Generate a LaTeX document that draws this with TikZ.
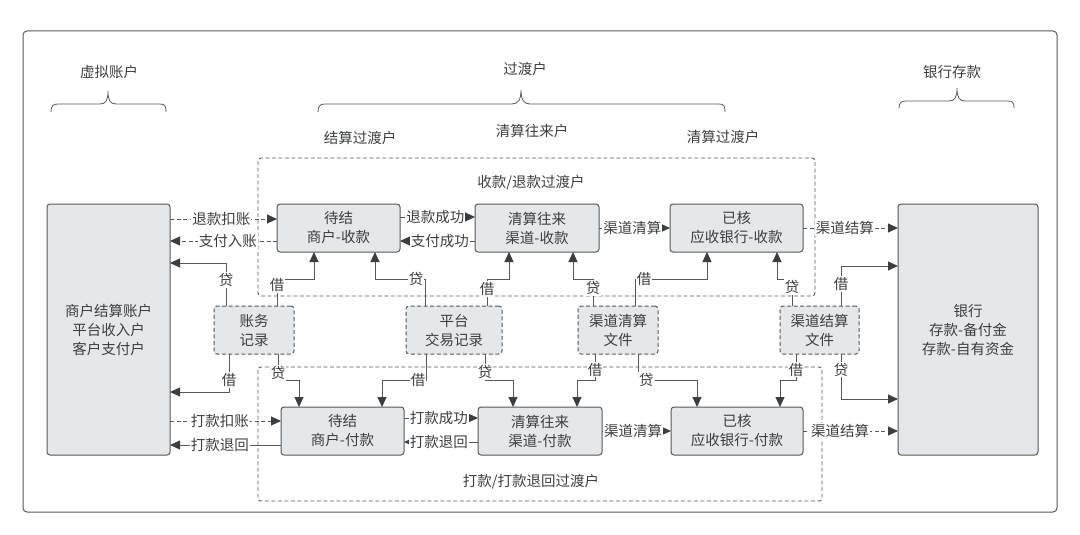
\documentclass[tikz,border=0pt]{standalone}
\usepackage{fontspec}
\setmainfont{Noto Sans CJK SC}
\usetikzlibrary{positioning,arrows.meta}
\definecolor{inkgrey}{HTML}{3C3F41}
\definecolor{linegrey}{HTML}{55595C}
\definecolor{boxgrey}{HTML}{E4E8EA}

\begin{document}
\begin{tikzpicture}[x=1pt,y=-1pt,
        every node/.style = {text=inkgrey, font=\fontsize{14.5}{19}\selectfont, align=center, inner sep=0pt, outer sep=0pt},
        acct/.style = {draw=linegrey, line width=1pt, fill=boxgrey, rounded corners=3pt, minimum height=48pt},
        rec/.style = {acct, dash pattern=on 4pt off 2.5pt},
        zone/.style = {draw=linegrey, line width=.9pt, dash pattern=on 4pt off 2.5pt, rounded corners=3pt},
        flow/.style = {draw=linegrey, line width=1pt, -{Stealth[length=10pt,width=9pt,inset=0pt,color=inkgrey]}},
        dflow/.style = {flow, dash pattern=on 4pt off 2.5pt},
        lbl/.style = {fill=white, inner sep=1pt},
        brc/.style = {draw=linegrey, line width=.8pt}]
        \useasboundingbox (0,0) rectangle (1080,535);
        \draw[draw=linegrey, line width=1pt, rounded corners=4pt] (23,31) rectangle (1057,512);

        % braces and headings
        \draw[brc] (51,112) .. controls (51,106) and (53,104) .. (58,104) -- (100,104) .. controls (106,104) and (108,100) .. (108,91) .. controls (108,100) and (110,104) .. (116,104) -- (160,104) .. controls (165,104) and (166,106) .. (166,112);
        \draw[brc] (318,112) .. controls (318,106) and (320,104) .. (325,104) -- (512,104) .. controls (518,104) and (521,100) .. (521,90) .. controls (521,100) and (524,104) .. (530,104) -- (719,104) .. controls (724,104) and (725,106) .. (725,112);
        \draw[brc] (899,108) .. controls (899,103) and (901,101) .. (906,101) -- (949,101) .. controls (955,101) and (957,97) .. (957,88) .. controls (957,97) and (959,101) .. (965,101) -- (1008,101) .. controls (1013,101) and (1014,103) .. (1014,108);
        \node (headVirt) at (109,72) {虚拟账户};
        \node (headTrans) at (525,69) {过渡户};
        \node (headBank) at (952,72) {银行存款};
        \node (headSettle) at (360,138) {结算过渡户};
        \node (headClear) at (532,131) {清算往来户};
        \node (headVerify) at (723,137) {清算过渡户};

        % dashed zones
        \draw[zone] (258,158) rectangle (815,296);
        \draw[zone] (258,367) rectangle (822,501);
        \node (zoneIn) at (531,183) {收款/退款过渡户};
        \node (zoneOut) at (531,482) {打款/打款退回过渡户};

        % accounts
        \node[acct, minimum width=123pt, minimum height=251pt] (ledger) at (108.5,329.5) {商户结算账户\\平台收入户\\客户支付户};
        \node[acct, minimum width=140pt, minimum height=251pt] (bank) at (968,329.5) {银行\\存款-备付金\\存款-自有资金};
        \node[acct, minimum width=123pt] (merchIn) at (338.5,228) {待结\\商户-收款};
        \node[acct, minimum width=124pt] (clearIn) [right=75pt of merchIn] {清算往来\\渠道-收款};
        \node[acct, minimum width=133pt] (verIn) [right=71pt of clearIn] {已核\\应收银行-收款};
        \node[acct, minimum width=123pt] (merchOut) at (342.5,431) {待结\\商户-付款};
        \node[acct, minimum width=124pt] (clearOut) [right=74pt of merchOut] {清算往来\\渠道-付款};
        \node[acct, minimum width=132pt] (verOut) [right=69pt of clearOut] {已核\\应收银行-付款};

        % records
        \node[rec, minimum width=80pt] (book) at (254,330) {账务\\记录};
        \node[rec, minimum width=96pt] (plat) at (454,330) {平台\\交易记录};
        \node[rec, minimum width=80pt] (chanClr) at (618,330) {渠道清算\\文件};
        \node[rec, minimum width=79pt] (chanSet) at (819.5,330) {渠道结算\\文件};

        % top row
        \draw[dflow] (ledger.east |- 0,219) -- node[lbl, pos=.48] {退款扣账} (merchIn.west |- 0,219);
        \draw[dflow] (merchIn.west |- 0,241) -- node[lbl, pos=.46] {支付入账} (ledger.east |- 0,241);
        \draw[flow] (merchIn.east |- 0,217) -- node[lbl, pos=.47] {退款成功} (clearIn.west |- 0,217);
        \draw[flow] (clearIn.west |- 0,241) -- node[lbl, pos=.47] {支付成功} (merchIn.east |- 0,241);
        \draw[flow] (clearIn.east) -- node[lbl, pos=.47] {渠道清算} (verIn.west);
        \draw[dflow] (verIn.east) -- node[lbl, pos=.44] {渠道结算} (bank.west |- verIn.east);

        % bottom row
        \draw[dflow] (ledger.east |- 0,421) -- node[lbl, pos=.45] {打款扣账} (merchOut.west |- 0,421);
        \draw[flow] (merchOut.west |- 0,445) -- node[lbl, pos=.55] {打款退回} (ledger.east |- 0,445);
        \draw[flow] (merchOut.east |- 0,418) -- node[lbl, pos=.47] {打款成功} (clearOut.west |- 0,418);
        \draw[flow] (clearOut.west |- 0,442) -- node[lbl, pos=.53] {打款退回} (merchOut.east |- 0,442);
        \draw[flow] (clearOut.east) -- node[lbl, pos=.45] {渠道清算} (verOut.west);
        \draw[dflow] (verOut.east) -- node[lbl, pos=.39] {渠道结算} (bank.west |- verOut.east);

        % records to upper row
        \draw[flow] (book.north -| 226,0) -- node[lbl, pos=.6] {贷} (226,263) -- (ledger.east |- 0,263);
        \draw[flow] (book.north -| 277,0) -- node[lbl, pos=.78] {借} (277,279) -| (merchIn.south -| 314,0);
        \draw[flow] (plat.north -| 425,0) -- (425,279) -- node[lbl, pos=.18] {贷} (375,279) -- (merchIn.south -| 375,0);
        \draw[flow] (plat.north -| 487,0) -- node[lbl, pos=.63] {借} (487,279) -| (clearIn.south -| 509,0);
        \draw[flow] (chanClr.north -| 593,0) -- node[lbl, pos=.67] {贷} (593,279) -| (clearIn.south -| 573,0);
        \draw[flow] (chanClr.north -| 635,0) -- (635,279) -- node[lbl, pos=.125] {借} (707,279) -- (verIn.south -| 707,0);
        \draw[flow] (chanSet.north -| 792,0) -- node[lbl, pos=.7] {贷} (792,279) -| (verIn.south -| 777,0);
        \draw[flow] (chanSet.north -| 841,0) -- node[lbl, pos=.55] {借} (841,266) -- (bank.west |- 0,266);

        % records to lower row
        \draw[flow] (book.south -| 229,0) -- node[lbl, pos=.68] {借} (229,392) -- (ledger.east |- 0,392);
        \draw[flow] (book.south -| 278,0) -- node[lbl, pos=.73] {贷} (278,380) -| (merchOut.north -| 299,0);
        \draw[flow] (plat.south -| 426,0) -- (426,380) -- node[lbl, pos=.18] {借} (382,380) -- (merchOut.north -| 382,0);
        \draw[flow] (plat.south -| 485,0) -- node[lbl, pos=.7] {贷} (485,380) -| (clearOut.north -| 513,0);
        \draw[flow] (chanClr.south -| 595,0) -- node[lbl, pos=.6] {借} (595,380) -| (clearOut.north -| 577,0);
        \draw[flow] (chanClr.south -| 638,0) -- (638,380) -- node[lbl, pos=.14] {贷} (697,380) -- (verOut.north -| 697,0);
        \draw[flow] (chanSet.south -| 796,0) -- node[lbl, pos=.6] {借} (796,380) -| (verOut.north -| 780,0);
        \draw[flow] (chanSet.south -| 841,0) -- node[lbl, pos=.35] {贷} (841,399) -- (bank.west |- 0,399);
\end{tikzpicture}
\end{document}
